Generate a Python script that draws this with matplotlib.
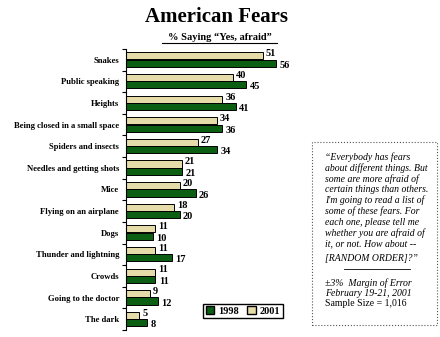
import matplotlib
matplotlib.use("Agg")
import matplotlib.pyplot as plt
from matplotlib.lines import Line2D
from matplotlib.patches import Rectangle, Patch
import numpy as np

# ---------------------------------------------------------------------------
# Data
# ---------------------------------------------------------------------------
categories = [
    "Snakes", "Public speaking", "Heights", "Being closed in a small space",
    "Spiders and insects", "Needles and getting shots", "Mice",
    "Flying on an airplane", "Dogs", "Thunder and lightning", "Crowds",
    "Going to the doctor", "The dark",
]
values_2001 = [51, 40, 36, 34, 27, 21, 20, 18, 11, 11, 11, 9, 5]
values_1998 = [56, 45, 41, 36, 34, 21, 26, 20, 10, 17, 11, 12, 8]

note_lines = [
    "\u201cEverybody has fears",
    "about different things. But",
    "some are more afraid of",
    "certain things than others.",
    "I'm going to read a list of",
    "some of these fears. For",
    "each one, please tell me",
    "whether you are afraid of",
    "it, or not. How about --",
    "[RANDOM ORDER]?\u201d",
]

GREEN = "#0b5e12"
BEIGE = "#e6dcaa"
SERIF = "Liberation Serif"

W, H = 440, 337
fig = plt.figure(figsize=(W / 100, H / 100), dpi=100)


def fx(px):
    return px / W


def fy(py):
    return 1 - py / H


# ---------------------------------------------------------------------------
# Bars
# ---------------------------------------------------------------------------
ax = fig.add_axes([fx(126), fy(330), fx(174), (330 - 49) / H])
y = np.arange(len(categories))
bh = 0.33
ax.barh(y - 0.18, values_2001, height=bh, color=BEIGE, edgecolor="black", linewidth=0.7)
ax.barh(y + 0.16, values_1998, height=bh, color=GREEN, edgecolor="black", linewidth=0.7)

for yi, v in zip(y, values_2001):
    ax.annotate(str(v), (v, yi - 0.18), xytext=(2, 1.5), textcoords="offset points",
                ha="left", va="center", fontsize=7.5, fontweight="bold", family=SERIF)
for yi, v in zip(y, values_1998):
    ax.annotate(str(v), (v, yi + 0.16), xytext=(2.5, -1.5), textcoords="offset points",
                ha="left", va="center", fontsize=7.5, fontweight="bold", family=SERIF)

ax.set_xlim(0, 65)
ax.set_ylim(len(categories) - 0.5, -0.5)
for s in ["top", "right", "bottom"]:
    ax.spines[s].set_visible(False)
ax.spines["left"].set_linewidth(0.8)
ax.set_xticks([])
ax.set_yticks(y)
ax.set_yticklabels(categories, fontsize=6.2, fontweight="bold", family=SERIF)
ax.tick_params(axis="y", which="major", length=0, pad=5)
ax.set_yticks(np.arange(len(categories) + 1) - 0.5, minor=True)
ax.tick_params(axis="y", which="minor", length=3, width=0.8)

# ---------------------------------------------------------------------------
# Titles
# ---------------------------------------------------------------------------
fig.text(fx(216), fy(17), "American Fears", ha="center", va="center",
         fontsize=15, fontweight="bold", family=SERIF)
fig.text(fx(220), fy(37), "% Saying \u201cYes, afraid\u201d", ha="center", va="center",
         fontsize=7.5, fontweight="bold", family=SERIF)
fig.add_artist(Line2D([fx(162), fx(277)], [fy(43), fy(43)], color="black", lw=0.8))

# ---------------------------------------------------------------------------
# Legend
# ---------------------------------------------------------------------------
handles = [Patch(facecolor=GREEN, edgecolor="black", label="1998"),
           Patch(facecolor=BEIGE, edgecolor="black", label="2001")]
fig.legend(handles=handles, loc="center", bbox_to_anchor=(fx(243), fy(311)), ncol=2,
           fancybox=False, edgecolor="black", framealpha=1,
           prop={"family": SERIF, "size": 7.5, "weight": "bold"},
           handlelength=0.8, handleheight=0.8, handletextpad=0.4, columnspacing=0.8,
           borderpad=0.25, borderaxespad=0)

# ---------------------------------------------------------------------------
# Note box
# ---------------------------------------------------------------------------
fig.add_artist(Rectangle((fx(312), fy(325)), fx(437 - 312), (325 - 142) / H,
                         fill=False, edgecolor="#555555", lw=0.8, linestyle=":"))
for i, line in enumerate(note_lines):
    ypos = 157 + i * 10.9 + (3 if i == len(note_lines) - 1 else 0)
    fig.text(fx(325), fy(ypos), line, ha="left", va="center", fontsize=7,
             style="italic", family=SERIF)
fig.add_artist(Line2D([fx(344), fx(410)], [fy(269), fy(269)], color="black", lw=0.6))
fig.text(fx(325), fy(283), "\u00b13%  Margin of Error", ha="left", va="center",
         fontsize=7, style="italic", family=SERIF)
fig.text(fx(325), fy(293), "February 19-21, 2001", ha="left", va="center",
         fontsize=7, style="italic", family=SERIF)
fig.text(fx(325), fy(303), "Sample Size = 1,016", ha="left", va="center",
         fontsize=7, family=SERIF)

fig.savefig("out.png", dpi=100)
